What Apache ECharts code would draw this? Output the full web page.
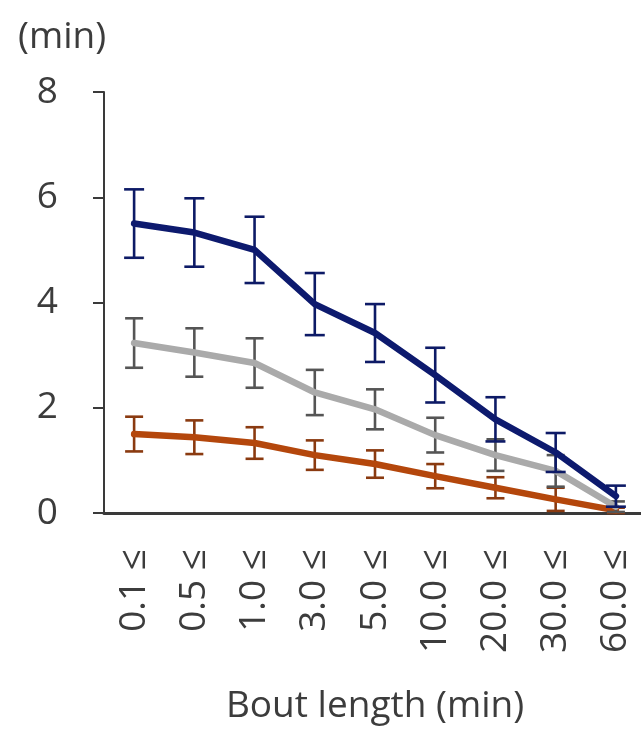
<!DOCTYPE html>
<html>
<head>
<meta charset="utf-8">
<script src="https://cdn.jsdelivr.net/npm/echarts@6/dist/echarts.min.js"></script>
<style>
html,body{margin:0;padding:0;background:#fff;}
#chart{width:641px;height:731px;}
</style>
</head>
<body>
<div id="chart"></div>
<script>
// Data
var categories = ['0.1 ≤', '0.5 ≤', '1.0 ≤', '3.0 ≤', '5.0 ≤', '10.0 ≤', '20.0 ≤', '30.0 ≤', '60.0 ≤'];
var yTicks = [0, 2, 4, 6, 8];
var blueMean = [5.5, 5.33, 5.0, 3.97, 3.42, 2.62, 1.78, 1.15, 0.32];
var blueErr  = [0.65, 0.65, 0.63, 0.59, 0.55, 0.52, 0.42, 0.37, 0.2];
var grayMean = [3.23, 3.05, 2.85, 2.29, 1.97, 1.48, 1.1, 0.8, 0.12];
var grayErr  = [0.47, 0.46, 0.47, 0.43, 0.38, 0.33, 0.3, 0.3, 0.1];
var orangeMean = [1.5, 1.44, 1.33, 1.1, 0.93, 0.7, 0.48, 0.26, 0.05];
var orangeErr  = [0.33, 0.32, 0.3, 0.28, 0.26, 0.23, 0.2, 0.22, 0.05];
var yAxisTitle = '(min)';
var xAxisTitle = 'Bout length (min)';

var FONT = '"Open Sans", sans-serif';
var FS = 37;
var TEXT = '#3c3c3c';

function errData(mean, err) {
  return mean.map(function (m, i) { return [i, m - err[i], m + err[i]]; });
}
function errSeries(mean, err, color, capHalf, z) {
  return {
    type: 'custom',
    z: z,
    data: errData(mean, err),
    renderItem: function (params, api) {
      var x = api.value(0);
      var lo = api.coord([x, api.value(1)]);
      var hi = api.coord([x, api.value(2)]);
      var st = { stroke: color, lineWidth: 2.6 };
      return {
        type: 'group',
        children: [
          { type: 'line', shape: { x1: lo[0], y1: lo[1], x2: hi[0], y2: hi[1] }, style: st },
          { type: 'line', shape: { x1: lo[0] - capHalf, y1: lo[1], x2: lo[0] + capHalf, y2: lo[1] }, style: st },
          { type: 'line', shape: { x1: hi[0] - capHalf, y1: hi[1], x2: hi[0] + capHalf, y2: hi[1] }, style: st }
        ]
      };
    }
  };
}
function lineSeries(mean, color, z) {
  return {
    type: 'line',
    z: z,
    data: mean,
    symbol: 'none',
    lineStyle: { color: color, width: 6.5, cap: 'round', join: 'round' },
    itemStyle: { color: color }
  };
}

var chart = echarts.init(document.getElementById('chart'));
chart.setOption({
  animation: false,
  backgroundColor: '#fff',
  title: {
    text: yAxisTitle,
    left: 13,
    top: 14,
    textStyle: { fontFamily: FONT, fontSize: FS, fontWeight: 'normal', color: TEXT }
  },
  grid: { left: 104, right: -5, top: 92, bottom: 218, outerBoundsMode: 'none', containLabel: false },
  xAxis: {
    type: 'category',
    data: categories,
    boundaryGap: true,
    name: xAxisTitle,
    nameLocation: 'middle',
    nameGap: 175,
    nameTextStyle: { fontFamily: FONT, fontSize: FS, color: TEXT },
    axisLine: { lineStyle: { color: '#3a3a3a', width: 3 } },
    axisTick: { show: false },
    axisLabel: { rotate: 90, margin: 36, fontFamily: FONT, fontSize: FS, color: TEXT, interval: 0 },
    splitLine: { show: false }
  },
  yAxis: {
    type: 'value',
    min: yTicks[0],
    max: yTicks[yTicks.length - 1],
    interval: 2,
    axisLine: { show: true, lineStyle: { color: '#3a3a3a', width: 2 } },
    axisTick: { show: true, length: 11, lineStyle: { color: '#3a3a3a', width: 2 } },
    axisLabel: { margin: 46, fontFamily: FONT, fontSize: FS, color: TEXT },
    splitLine: { show: false }
  },
  series: [
    errSeries(orangeMean, orangeErr, '#8a3a10', 9, 2),
    lineSeries(orangeMean, '#b4470c', 3),
    errSeries(grayMean, grayErr, '#555555', 9, 4),
    lineSeries(grayMean, '#aaaaaa', 5),
    errSeries(blueMean, blueErr, '#0d1a66', 10, 6),
    lineSeries(blueMean, '#0d1a6e', 7)
  ]
});
</script>
</body>
</html>
